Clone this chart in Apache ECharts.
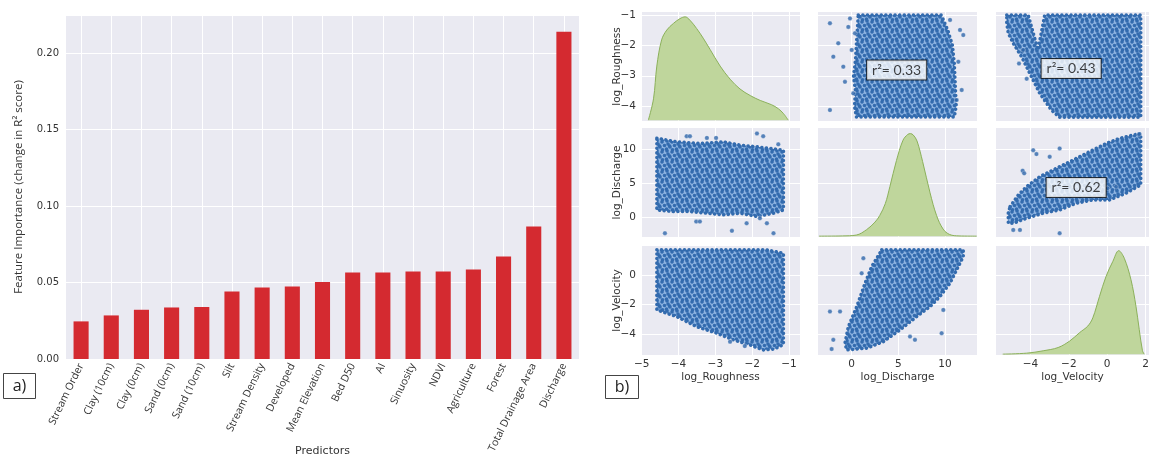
<!DOCTYPE html>
<html><head><meta charset="utf-8">
<script src="https://cdn.jsdelivr.net/npm/echarts@6/dist/echarts.min.js"></script>
<style>html,body{margin:0;padding:0;background:#fff}#c{width:1150px;height:459px}</style>
</head><body><div id="c"></div>
<script>
// ---------- DATA: panel a) ----------
const predictors = ['Stream Order','Clay (10cm)','Clay (0cm)','Sand (0cm)','Sand (10cm)','Silt','Stream Density','Developed','Mean Elevation','Bed D50','AI','Sinuosity','NDVI','Agriculture','Forest','Total Drainage Area','Discharge'];
const importance = [0.0246,0.0285,0.0322,0.0337,0.0340,0.0442,0.0468,0.0475,0.0503,0.0566,0.0566,0.0573,0.0573,0.0586,0.0671,0.0867,0.2141];
const barTicks = [0,0.05,0.10,0.15,0.20];

// ---------- DATA: panel b) ----------
const varNames = ['log_Roughness','log_Discharge','log_Velocity'];
const roughTicksX = [-5,-4,-3,-2,-1];
const dischargeTicks = [0,5,10];
const velocityTicksX = [-4,-2,0,2];
const roughTicksY = [-4,-3,-2,-1];
const velocityTicksY = [-4,-2,0];

// KDE curves [value, relative density]
const kdeRoughness = [[-4.82,0],[-4.68,0.197],[-4.59,0.5],[-4.46,0.742],[-4.32,0.833],[-4.14,0.894],[-3.96,0.939],[-3.82,0.955],[-3.69,0.924],[-3.51,0.848],[-3.33,0.758],[-3.14,0.652],[-2.87,0.5],[-2.60,0.379],[-2.33,0.288],[-2.05,0.227],[-1.78,0.182],[-1.47,0.142],[-1.29,0.106],[-1.15,0.061],[-1.02,0]];
const kdeDischarge = [[-3.5,0],[-1,0.002],[0.5,0.01],[1.6,0.06],[2.5,0.13],[3.0,0.19],[3.6,0.30],[4.1,0.46],[4.8,0.70],[5.5,0.887],[6.0,0.94],[6.3,0.948],[6.6,0.935],[7.0,0.88],[7.6,0.69],[8.4,0.40],[9.1,0.19],[9.8,0.065],[10.5,0.015],[11.5,0.002],[13.4,0]];
const kdeVelocity = [[-5.45,0],[-4.2,0.009],[-3.34,0.031],[-2.56,0.061],[-1.95,0.122],[-1.44,0.199],[-1.01,0.26],[-0.75,0.336],[-0.40,0.535],[-0.06,0.719],[0.29,0.856],[0.60,0.957],[0.89,0.887],[1.24,0.688],[1.50,0.443],[1.67,0.229],[1.84,0.031],[1.93,0]];

// Dense scatter clouds (outline of the dense region) and isolated points
const cloudDischargeRoughness = [[0.7,-1.0],[9.6,-1.0],[10.3,-1.5],[10.8,-2.0],[11.0,-2.6],[11.1,-3.3],[11.2,-4.0],[11.0,-4.36],[0.5,-4.36],[0.3,-4.0],[0.4,-3.5],[0.2,-3.0],[0.4,-2.5],[0.5,-2.0],[0.6,-1.5]];
const pointsDischargeRoughness = [[-2.33,-1.27],[-1.44,-1.93],[-1.97,-2.37],[-0.9,-2.7],[-0.36,-1.39],[-0.72,-3.2],[-2.33,-4.13],[-0.18,-1.11],[0.35,-1.6],[0.0,-2.15],[0.17,-3.58],[10.54,-1.16],[11.61,-1.49],[11.96,-1.66],[11.43,-2.54],[11.79,-3.47],[11.25,-3.8]];
const cloudVelocityRoughness = [[-5.24,-1.0],[-4.12,-1.0],[-3.61,-2.15],[-3.26,-1.0],[1.75,-1.0],[1.75,-4.37],[-2.48,-4.37],[-2.91,-4.13],[-3.52,-3.58],[-4.04,-2.92],[-4.47,-2.37],[-4.90,-1.93],[-5.16,-1.6],[-5.24,-1.27]];
const pointsVelocityRoughness = [[-4.38,-2.15],[-4.6,-2.6],[-4.2,-3.1]];
const cloudRoughnessDischarge = [[-4.59,11.6],[-4.05,11.07],[-3.42,10.83],[-2.78,11.07],[-2.33,10.59],[-1.87,10.34],[-1.51,10.1],[-1.15,9.85],[-1.15,1.07],[-1.42,0.59],[-1.87,0.1],[-2.33,0.59],[-2.78,0.35],[-3.23,0.59],[-3.69,0.83],[-4.14,0.83],[-4.59,1.07]];
const pointsRoughnessDischarge = [[-4.37,-2.34],[-3.52,-0.64],[-3.42,-0.64],[-2.55,-2.0],[-2.15,-0.88],[-1.79,-0.15],[-1.6,-0.88],[-1.42,-2.34],[-3.78,11.9],[-3.69,11.9],[-3.23,11.65],[-2.98,11.65],[-1.87,12.3],[-1.7,11.9],[-1.29,10.7]];
const cloudVelocityDischarge = [[-5.07,1.55],[-4.64,3.26],[-4.21,4.48],[-3.52,5.95],[-2.83,6.93],[-2.13,7.9],[-1.45,8.87],[-0.76,9.85],[-0.06,10.83],[0.63,11.56],[1.32,12.05],[1.75,12.3],[1.75,4.73],[0.97,3.51],[0.11,2.53],[-0.76,2.53],[-1.62,2.05],[-2.48,1.07],[-3.35,0.59],[-4.21,-0.15],[-4.9,-0.88],[-5.16,-0.88],[-5.16,0.59]];
const pointsVelocityDischarge = [[-3.86,9.85],[-3.69,9.27],[-4.41,6.83],[-4.33,6.44],[-3.0,8.87],[-2.48,10.1],[1.66,12.2],[-0.41,4.24],[0.02,4.24],[0.46,4.48],[-4.9,-1.86],[-4.55,-1.86],[-2.48,-2.34]];
const cloudRoughnessVelocity = [[-4.59,1.69],[-1.6,1.69],[-1.15,1.46],[-1.15,-4.7],[-1.4,-5.0],[-1.70,-5.06],[-2.06,-4.72],[-2.51,-4.38],[-2.96,-3.93],[-3.51,-3.49],[-4.05,-2.81],[-4.59,-2.36]];
const pointsRoughnessVelocity = [[-2.6,-4.5],[-2.2,-4.8]];
const cloudDischargeVelocity = [[3.22,1.69],[11.96,1.69],[11.96,1.23],[11.25,0.34],[10.54,-0.56],[9.46,-1.46],[8.39,-2.14],[6.97,-2.81],[5.18,-3.71],[3.39,-4.5],[1.61,-4.94],[-0.54,-5.06],[-0.72,-4.6],[-0.36,-3.49],[0.54,-2.14],[1.43,-0.56],[2.14,0.56]];
const pointsDischargeVelocity = [[-2.33,-2.47],[-1.25,-2.47],[-1.97,-4.38],[-2.15,-5.0],[6.25,-4.16],[6.78,-4.38],[9.64,-3.93],[1.25,1.13],[1.07,0.11],[9.82,-2.36]];

const r2Texts = ['r\u00b2= 0.33','r\u00b2= 0.43','r\u00b2= 0.62'];
const r2Positions = [[4.82,-2.81],[-1.88,-2.76],[-1.62,4.36]];

// ---------- LAYOUT ----------
const BG = '#eaeaf2';
const TXT = '#333';
const colLeft = [641, 818, 996], colW = [159, 159, 153];
const rowTop = [12, 128, 246], rowH = 109;
const colRanges = [[-5.02,-0.7],[-3.61,13.43],[-5.8,2.18]];
const rowRanges = [[-4.49,-0.9],[-2.9,13.1],[-5.4,1.95]];
const colTicks = [roughTicksX, dischargeTicks, velocityTicksX];
const rowTicks = [roughTicksY, dischargeTicks, velocityTicksY];
const fmtMinus = v => (v < 0 ? '\u2212' : '') + Math.abs(v);

// dotted texture for dense clouds (staggered dots)
const tile = document.createElement('canvas');
tile.width = 10; tile.height = 10;
(function(){
  const g = tile.getContext('2d');
  g.fillStyle = '#8fb5e2'; g.fillRect(0,0,10,10);
  const dots = [[2,2],[7,1],[4.5,5.5],[9.5,6],[0,7],[6.5,9],[2.5,9.8],[8,4]];
  g.fillStyle = '#336bae';
  dots.forEach(d => { for (let ox=-10; ox<=10; ox+=10) for (let oy=-10; oy<=10; oy+=10) {
    g.beginPath(); g.arc(d[0]+ox, d[1]+oy, 1.8, 0, Math.PI*2); g.fill(); } });
})();
const cloudFill = {image: tile, repeat: 'repeat'};

const grids = [{left:66, top:15, width:513, height:344, show:true, backgroundColor:BG, borderWidth:0, outerBoundsMode:'none', containLabel:false}];
const xAxes = [{
  gridIndex:0, type:'category', data:predictors, boundaryGap:true,
  axisLine:{show:false}, axisTick:{show:false}, splitLine:{show:false},
  axisLabel:{interval:0, rotate:64, fontSize:10.5, color:TXT, fontFamily:'Open Sans', margin:5},
  name:'Predictors', nameLocation:'middle', nameGap:87, nameMoveOverlap:false,
  nameTextStyle:{fontSize:11, color:TXT, fontFamily:'DejaVu Sans'}
}];
const yAxes = [{
  gridIndex:0, type:'value', min:0, max:0.225, interval:0.05,
  axisLine:{show:false}, axisTick:{show:false},
  splitLine:{show:true, lineStyle:{color:'#fff', width:1}},
  axisLabel:{color:TXT, fontSize:10, fontFamily:'DejaVu Sans', showMaxLabel:false, formatter:v=>v.toFixed(2), margin:7},
  name:'Feature Importance (change in R\u00b2 score)', nameLocation:'middle', nameGap:41, nameMoveOverlap:false,
  nameTextStyle:{fontSize:11.5, color:TXT, fontFamily:'Open Sans'}
}];

for (let r = 0; r < 3; r++) for (let c = 0; c < 3; c++) {
  const gi = grids.length;
  grids.push({left:colLeft[c], top:rowTop[r], width:colW[c], height:rowH, show:true, backgroundColor:BG, borderWidth:0, outerBoundsMode:'none', containLabel:false});
  xAxes.push({
    gridIndex:gi, type:'value', min:colRanges[c][0], max:colRanges[c][1],
    axisLine:{show:false}, axisTick:{show:false, customValues:colTicks[c]},
    splitLine:{show:true, lineStyle:{color:'#fff', width:1}},
    axisLabel:{show:r===2, customValues:colTicks[c], formatter:fmtMinus, color:TXT, fontSize:10.5, fontFamily:'DejaVu Sans', margin:4},
    name: r===2 ? varNames[c] : '', nameLocation:'middle', nameGap:17, nameMoveOverlap:false,
    nameTextStyle:{fontSize:10.5, color:TXT, fontFamily:'DejaVu Sans'}
  });
  yAxes.push({
    gridIndex:gi, type:'value', min:rowRanges[r][0], max:rowRanges[r][1],
    axisLine:{show:false}, axisTick:{show:false, customValues:rowTicks[r]},
    splitLine:{show:true, lineStyle:{color:'#fff', width:1}},
    axisLabel:{show:c===0, customValues:rowTicks[r], formatter:fmtMinus, color:TXT, fontSize:10.5, fontFamily:'DejaVu Sans', margin:5},
    name: c===0 ? varNames[r] : '', nameLocation:'middle', nameGap:18, nameMoveOverlap:false,
    nameTextStyle:{fontSize:10.5, color:TXT, fontFamily:'DejaVu Sans'}
  });
}
// density axes for diagonal panels (indices 10,11,12)
[1,5,9].forEach(gi => yAxes.push({gridIndex:gi, type:'value', min:-0.008, max:1.0, show:false, position:'right', splitLine:{show:false}}));
// overlay axis for vertical grid lines at bar centres (index 10)
xAxes.push({gridIndex:0, type:'value', min:-0.5, max:predictors.length-0.5, axisLine:{show:false}, axisTick:{show:false, customValues:predictors.map((_,i)=>i)}, axisLabel:{show:false, customValues:predictors.map((_,i)=>i)}, splitLine:{show:true, lineStyle:{color:'#fff', width:1}}});

const series = [{
  type:'bar', xAxisIndex:0, yAxisIndex:0, data:importance, barWidth:'50%',
  itemStyle:{color:'#d42a30'}, z:3
}];

function kde(gi, yi, data){
  return {type:'line', xAxisIndex:gi, yAxisIndex:yi, data:data, smooth:0.35, symbol:'none',
    lineStyle:{color:'#8bb05a', width:1}, areaStyle:{color:'#bfd69c', opacity:1}, z:3};
}
function cloud(gi, poly){
  return {type:'custom', xAxisIndex:gi, yAxisIndex:gi, data:poly, silent:true, clip:true, z:3,
    renderItem:(params, api) => {
      if (params.dataIndex !== 0) return null;
      const pts = poly.map(p => api.coord(p));
      return {type:'polygon', shape:{points:pts}, style:{fill:cloudFill, stroke:'#336bae', lineWidth:3.5, lineDash:[0.1,4.5], lineCap:'round', lineJoin:'round'}};
    }};
}
function pts(gi, data){
  return {type:'scatter', xAxisIndex:gi, yAxisIndex:gi, data:data, symbolSize:4.5, silent:true, z:4,
    itemStyle:{color:'#2f67aa', borderColor:'rgba(255,255,255,0.7)', borderWidth:0.5}};
}
function r2(gi, text, pos){
  return {type:'scatter', xAxisIndex:gi, yAxisIndex:gi, data:[pos], symbolSize:1, silent:true, z:6,
    itemStyle:{color:'rgba(0,0,0,0)'},
    label:{show:true, position:'inside', formatter:text, backgroundColor:'#fff', borderColor:'#111', borderWidth:1,
      padding:[3,5,2,5], fontSize:14, color:'#111', fontFamily:'Lato'}};
}
// grid index = 1 + r*3 + c
series.push(kde(1, 10, kdeRoughness));
series.push(kde(5, 11, kdeDischarge));
series.push(kde(9, 12, kdeVelocity));
series.push(cloud(2, cloudDischargeRoughness), pts(2, pointsDischargeRoughness));
series.push(cloud(3, cloudVelocityRoughness), pts(3, pointsVelocityRoughness));
series.push(cloud(4, cloudRoughnessDischarge), pts(4, pointsRoughnessDischarge));
series.push(cloud(6, cloudVelocityDischarge), pts(6, pointsVelocityDischarge));
series.push(cloud(7, cloudRoughnessVelocity), pts(7, pointsRoughnessVelocity));
series.push(cloud(8, cloudDischargeVelocity), pts(8, pointsDischargeVelocity));
series.push(r2(2, r2Texts[0], r2Positions[0]));
series.push(r2(3, r2Texts[1], r2Positions[1]));
series.push(r2(6, r2Texts[2], r2Positions[2]));

const chart = echarts.init(document.getElementById('c'), null, {renderer:'canvas'});
chart.setOption({
  animation:false,
  backgroundColor:'#fff',
  grid:grids, xAxis:xAxes, yAxis:yAxes, series:series,
  graphic:[
    {type:'group', left:3, top:373, children:[
      {type:'rect', shape:{x:0,y:0,width:32,height:25}, style:{fill:'#fff', stroke:'#444', lineWidth:1}},
      {type:'text', x:16, y:13, style:{text:'a)', fontSize:16, fontFamily:'Open Sans', fill:'#222', align:'center', verticalAlign:'middle'}}
    ]},
    {type:'group', left:605, top:375, children:[
      {type:'rect', shape:{x:0,y:0,width:33,height:23}, style:{fill:'#fff', stroke:'#444', lineWidth:1}},
      {type:'text', x:16.5, y:12, style:{text:'b)', fontSize:16, fontFamily:'Open Sans', fill:'#222', align:'center', verticalAlign:'middle'}}
    ]}
  ]
});
</script></body></html>
